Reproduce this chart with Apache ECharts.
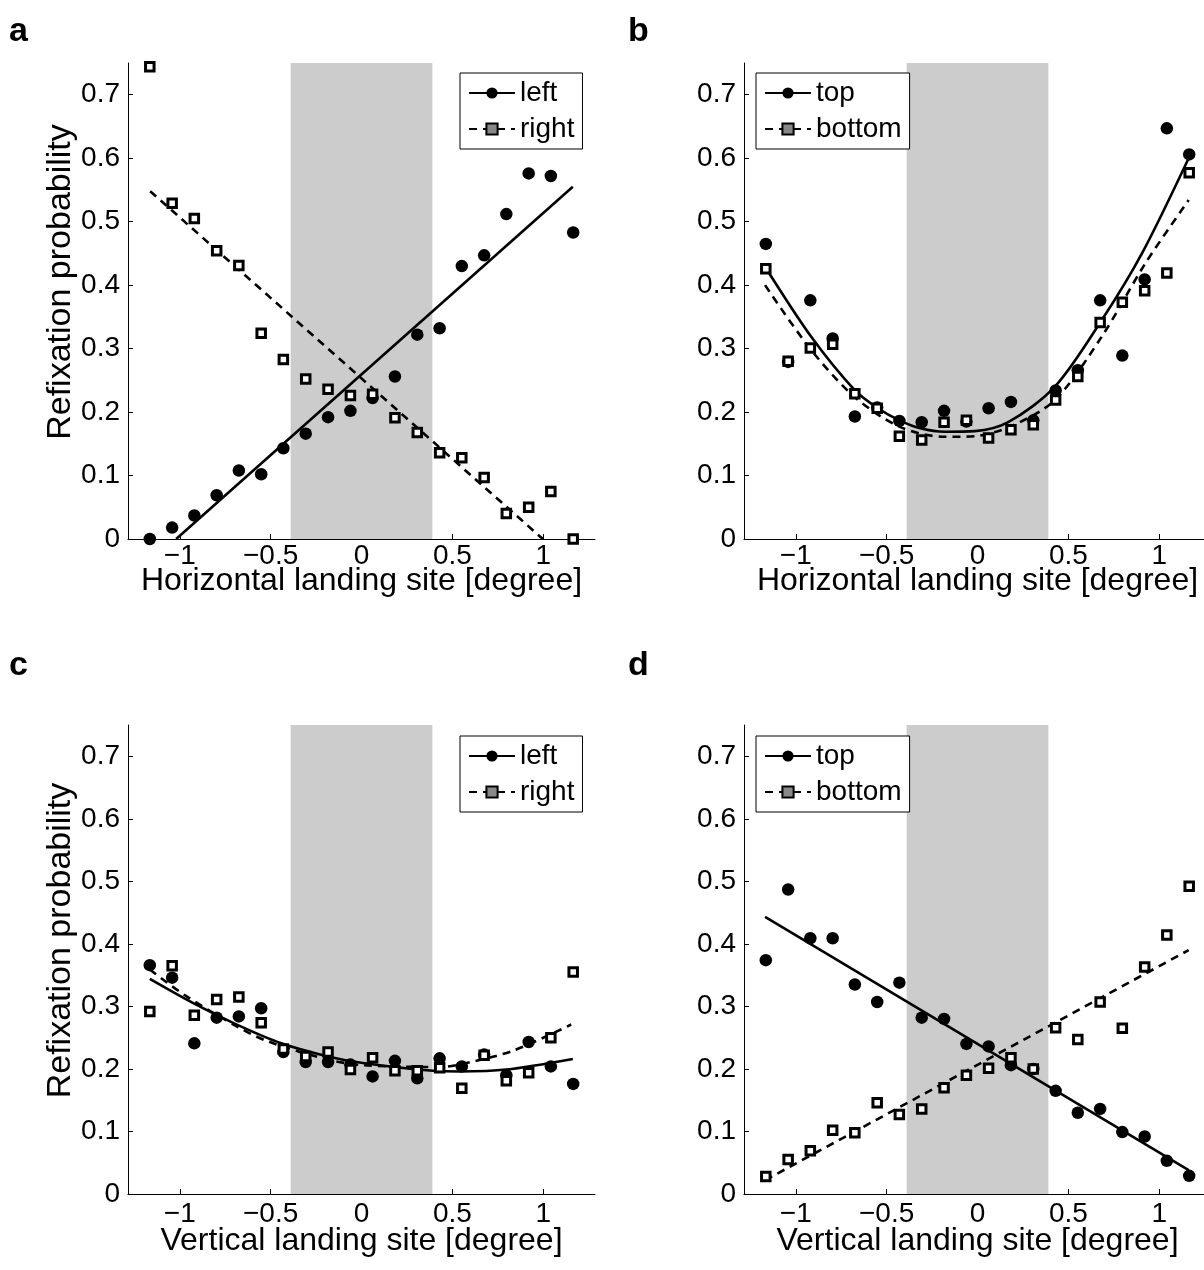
<!DOCTYPE html>
<html>
<head>
<meta charset="utf-8">
<script src="https://cdn.jsdelivr.net/npm/echarts@6/dist/echarts.min.js"></script>
<style>
  html, body { margin: 0; padding: 0; background: #fff; }
  #chart { width: 1204px; height: 1270px; }
</style>
</head>
<body>
<div id="chart"></div>
<script>
// ======================= data =======================
// landing-site bin centres (degree), shared by all four panels
const xs = [-1.165, -1.042, -0.920, -0.797, -0.675, -0.552, -0.430, -0.307, -0.184, -0.061,
            0.061, 0.184, 0.307, 0.430, 0.552, 0.675, 0.797, 0.920, 1.042, 1.165]

const xTicks = [-1, -0.5, 0, 0.5, 1]
const yTicks = [0, 0.1, 0.2, 0.3, 0.4, 0.5, 0.6, 0.7]
const band = [-0.39, 0.39]   // grey region

// a : horizontal landing site, left / right
const aLeft  = [0.000, 0.018, 0.037, 0.069, 0.108, 0.102, 0.143, 0.166, 0.192, 0.202,
                0.222, 0.256, 0.322, 0.332, 0.430, 0.447, 0.512, 0.576, 0.572, 0.483]
const aRight = [0.744, 0.529, 0.505, 0.454, 0.431, 0.324, 0.283, 0.252, 0.236, 0.226,
                0.228, 0.191, 0.168, 0.136, 0.128, 0.097, 0.040, 0.050, 0.075, 0.000]
const aLeftFit  = [[-1.02, 0], [1.163, 0.555]]
const aRightFit = [[-1.163, 0.548], [0.998, 0]]

// b : horizontal landing site, top / bottom
const bTop    = [0.465, 0.279, 0.376, 0.316, 0.193, 0.207, 0.186, 0.184, 0.202, 0.185,
                 0.206, 0.216, 0.187, 0.234, 0.266, 0.376, 0.289, 0.409, 0.647, 0.606]
const bBottom = [0.426, 0.280, 0.301, 0.307, 0.229, 0.206, 0.162, 0.156, 0.184, 0.187,
                 0.159, 0.172, 0.180, 0.219, 0.256, 0.341, 0.373, 0.391, 0.419, 0.577]
const bTopFit = [[-1.169, 0.429], [-0.916, 0.319], [-0.677, 0.235], [-0.548, 0.206], [-0.430, 0.187],
                 [-0.309, 0.174], [-0.180, 0.169], [-0.015, 0.170], [0.169, 0.184], [0.426, 0.240],
                 [0.684, 0.345], [0.905, 0.450], [1.162, 0.600]]
const bBottomFit = [[-1.169, 0.400], [-0.916, 0.298], [-0.677, 0.224], [-0.430, 0.177], [-0.180, 0.161],
                    [-0.015, 0.162], [0.187, 0.178], [0.426, 0.219], [0.684, 0.319], [0.923, 0.434],
                    [1.162, 0.534]]

// c : vertical landing site, left / right
const cLeft  = [0.366, 0.346, 0.241, 0.282, 0.284, 0.297, 0.227, 0.211, 0.211, 0.207,
                0.188, 0.213, 0.185, 0.217, 0.204, 0.223, 0.190, 0.243, 0.204, 0.176]
const cRight = [0.292, 0.365, 0.286, 0.311, 0.315, 0.274, 0.232, 0.220, 0.227, 0.199,
                0.218, 0.197, 0.197, 0.202, 0.169, 0.222, 0.181, 0.194, 0.250, 0.355]
const cLeftFit = [[-1.165, 0.344], [-0.918, 0.304], [-0.680, 0.270], [-0.442, 0.241], [-0.185, 0.220],
                  [0.007, 0.2095], [0.394, 0.197], [0.540, 0.196], [0.797, 0.199], [1.163, 0.216]]
const cRightFit = [[-1.165, 0.359], [-0.973, 0.318], [-0.680, 0.267], [-0.515, 0.244], [-0.185, 0.215],
                   [0.007, 0.206], [0.430, 0.203], [0.632, 0.213], [0.833, 0.229], [1.016, 0.252],
                   [1.154, 0.271]]

// d : vertical landing site, top / bottom
const dTop    = [0.374, 0.487, 0.409, 0.409, 0.335, 0.307, 0.338, 0.282, 0.280, 0.240,
                 0.236, 0.206, 0.200, 0.165, 0.130, 0.136, 0.099, 0.092, 0.053, 0.029]
const dBottom = [0.028, 0.055, 0.069, 0.102, 0.098, 0.146, 0.127, 0.136, 0.170, 0.190,
                 0.201, 0.218, 0.200, 0.266, 0.247, 0.307, 0.265, 0.363, 0.414, 0.492]
const dTopFit    = [[-1.169, 0.443], [1.162, 0.038]]
const dBottomFit = [[-1.169, 0.022], [1.162, 0.390]]

// ======================= helpers =======================
const FONT = '"Liberation Sans", Arial, Helvetica, sans-serif'
const pairs = ys => xs.map((x, i) => [x, ys[i]])
const fmt = v => String(v).replace('-', '\u2212')

function xAxisFor(i, title, gap, labelMargin) {
  return {
    gridIndex: i, type: 'value', min: -1.285, max: 1.285,
    name: title, nameLocation: 'middle', nameGap: gap, nameMoveOverlap: false,
    nameTextStyle: { fontSize: 32, color: '#000', fontFamily: FONT, verticalAlign: 'top' },
    axisLine: { show: true, onZero: false, lineStyle: { color: '#000', width: 1 } },
    axisTick: { show: true, inside: true, length: 5, customValues: xTicks, lineStyle: { color: '#000' } },
    axisLabel: { customValues: xTicks, fontSize: 28, color: '#000', fontFamily: FONT, margin: labelMargin, formatter: fmt },
    splitLine: { show: false }
  }
}

function yAxisFor(i, title) {
  return {
    gridIndex: i, type: 'value', min: 0, max: 0.75,
    name: title, nameLocation: 'middle', nameGap: 48,
    // left padding pushes the rotated label a little upwards, as in the original
    nameTextStyle: { fontSize: 34, color: '#000', fontFamily: FONT, padding: [0, 0, 0, 38] },
    axisLine: { show: true, onZero: false, lineStyle: { color: '#000', width: 1 } },
    axisTick: { show: true, inside: true, length: 5, customValues: yTicks, lineStyle: { color: '#000' } },
    axisLabel: { customValues: yTicks, fontSize: 28, color: '#000', fontFamily: FONT, margin: 8, formatter: v => String(v) },
    splitLine: { show: false }
  }
}

function panelSeries(i, names, dots, squares, fitDots, fitSquares, smooth) {
  return [
    {
      type: 'scatter', xAxisIndex: i, yAxisIndex: i, z: 4,
      data: pairs(dots), symbol: 'circle', symbolSize: 12.5,
      itemStyle: { color: '#000', opacity: 1 },
      markArea: {
        silent: true,
        itemStyle: { color: '#cccccc', opacity: 1 },
        data: [[{ xAxis: band[0] }, { xAxis: band[1] }]]
      }
    },
    {
      type: 'scatter', xAxisIndex: i, yAxisIndex: i, z: 4,
      data: pairs(squares), symbol: 'rect', symbolSize: 8.5,
      itemStyle: { color: '#fff', borderColor: '#000', borderWidth: 3, opacity: 1 }
    },
    {
      name: names[0], type: 'line', xAxisIndex: i, yAxisIndex: i, z: 3,
      data: fitDots, smooth: smooth, showSymbol: false, symbol: 'circle', symbolSize: 11,
      itemStyle: { color: '#000' },
      lineStyle: { color: '#000', width: 2.6 }
    },
    {
      name: names[1], type: 'line', xAxisIndex: i, yAxisIndex: i, z: 3,
      data: fitSquares, smooth: smooth, showSymbol: false, symbol: 'rect', symbolSize: 9,
      itemStyle: { color: '#888', borderColor: '#000', borderWidth: 3 },
      lineStyle: { color: '#000', width: 2.6, type: [8, 6] }
    }
  ]
}

function legendFor(names, left, top) {
  return {
    data: names, left: left, top: top, orient: 'vertical',
    borderColor: '#000', borderWidth: 1, borderRadius: 0, backgroundColor: '#fff',
    padding: [5, 8, 5, 8], itemGap: 6, itemWidth: 46, itemHeight: 14,
    textStyle: { fontSize: 28, color: '#000', fontFamily: FONT, lineHeight: 30 },
    selectedMode: false
  }
}

function letter(t, left, top) {
  return { text: t, left: left, top: top, textStyle: { fontSize: 34, fontWeight: 'bold', color: '#000', fontFamily: FONT } }
}

// ======================= chart =======================
let myChart = echarts.init(document.getElementById('chart'), null, { renderer: 'canvas' })

let option = {
  animation: false,
  backgroundColor: '#fff',
  title: [letter('a', 4, 10), letter('b', 623, 10), letter('c', 4, 644), letter('d', 623, 644)],
  grid: [
    { left: 128, top: 63, width: 467, height: 476, outerBoundsMode: 'none' },
    { left: 744, top: 63, width: 467, height: 476, outerBoundsMode: 'none' },
    { left: 128, top: 725, width: 467, height: 469, outerBoundsMode: 'none' },
    { left: 744, top: 725, width: 467, height: 469, outerBoundsMode: 'none' }
  ],
  xAxis: [
    xAxisFor(0, 'Horizontal landing site [degree]', 26, 3),
    xAxisFor(1, 'Horizontal landing site [degree]', 26, 3),
    xAxisFor(2, 'Vertical landing site [degree]', 31, 6),
    xAxisFor(3, 'Vertical landing site [degree]', 31, 6)
  ],
  yAxis: [
    yAxisFor(0, 'Refixation probability'),
    yAxisFor(1, ''),
    yAxisFor(2, 'Refixation probability'),
    yAxisFor(3, '')
  ],
  legend: [
    legendFor(['left', 'right'], 460, 73),
    legendFor(['top', 'bottom'], 756, 73),
    legendFor(['left', 'right'], 460, 736),
    legendFor(['top', 'bottom'], 756, 736)
  ],
  series: [].concat(
    panelSeries(0, ['left', 'right'], aLeft, aRight, aLeftFit, aRightFit, false),
    panelSeries(1, ['top', 'bottom'], bTop, bBottom, bTopFit, bBottomFit, 0.3),
    panelSeries(2, ['left', 'right'], cLeft, cRight, cLeftFit, cRightFit, 0.3),
    panelSeries(3, ['top', 'bottom'], dTop, dBottom, dTopFit, dBottomFit, false)
  )
}

myChart.setOption(option)
</script>
</body>
</html>
